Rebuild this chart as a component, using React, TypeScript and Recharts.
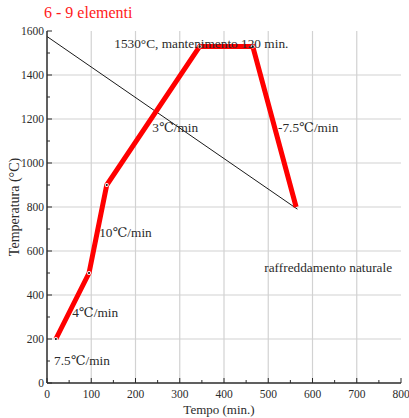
import React from 'react';
import { LineChart, Line, XAxis, YAxis, ReferenceLine, ReferenceDot } from 'recharts';

// heating profile (min, °C)
const heatTime = [20, 95, 135, 345, 465, 563];
const heatTemp = [200, 500, 900, 1530, 1530, 800];

// natural cooling line
const coolTime = [0, 566];
const coolTemp = [1575, 790];

const xMajor = [0, 100, 200, 300, 400, 500, 600, 700, 800];
const xTicks = [0, 50, 100, 150, 200, 250, 300, 350, 400, 450, 500, 550, 600, 650, 700, 750, 800];
const yMajor = [0, 200, 400, 600, 800, 1000, 1200, 1400, 1600];
const yTicks = [0, 100, 200, 300, 400, 500, 600, 700, 800, 900, 1000, 1100, 1200, 1300, 1400, 1500, 1600];

const noteText = [
  '1530°C, mantenimento 120 min.',
  '3℃/min',
  '-7.5℃/min',
  '10℃/min',
  'raffreddamento naturale',
  '4℃/min',
  '7.5℃/min',
];
const noteX = [152, 238, 522, 118, 491, 57, 16];
const noteY = [1545, 1164, 1164, 686, 527, 323, 105];

const heatData = heatTime.map((t, i) => ({ t, v: heatTemp[i] }));
const coolData = coolTime.map((t, i) => ({ t, v: coolTemp[i] }));
const notes = noteText.map((text, i) => ({ text, x: noteX[i], y: noteY[i] }));

const FONT = '"Liberation Serif", "DejaVu Serif", serif';
const INK = '#2b2b2b';

const BottomTick = (props: any) => {
  const { x, y, payload } = props;
  const major = payload.value % 100 === 0;
  return (
    <g>
      <line x1={x} x2={x} y1={y} y2={y - (major ? 5 : 3)} stroke={INK} />
      {major && (
        <text x={x} y={y + 15} textAnchor="middle" fontSize={11.5} fill={INK} fontFamily={FONT}>
          {payload.value}
        </text>
      )}
    </g>
  );
};

const TopTick = (props: any) => {
  const { x, y, payload } = props;
  const major = payload.value % 100 === 0;
  return <line x1={x} x2={x} y1={y} y2={y + (major ? 5 : 3)} stroke={INK} />;
};

const LeftTick = (props: any) => {
  const { x, y, payload } = props;
  const major = payload.value % 200 === 0;
  return (
    <g>
      <line x1={x} x2={x + (major ? 5 : 3)} y1={y} y2={y} stroke={INK} />
      {major && (
        <text x={x - 3} y={y + 4} textAnchor="end" fontSize={11.5} fill={INK} fontFamily={FONT}>
          {payload.value}
        </text>
      )}
    </g>
  );
};

const RightTick = (props: any) => {
  const { x, y, payload } = props;
  const major = payload.value % 200 === 0;
  return <line x1={x} x2={x - (major ? 5 : 3)} y1={y} y2={y} stroke={INK} />;
};

const VertexDot = (props: any) => {
  const { cx, cy, index } = props;
  if (index === heatData.length - 1) return <g key={index} />;
  return (
    <g key={index}>
      <circle cx={cx} cy={cy} r={2} fill="#fff" />
      <circle cx={cx} cy={cy} r={1.1} fill="#111" />
    </g>
  );
};

export default function App() {
  return (
    <div style={{ position: 'relative', width: 409, height: 418, background: '#fff', fontFamily: FONT }}>
      <style>{'body{margin:0}'}</style>
      <div style={{ position: 'absolute', left: 44, top: 3, color: '#ff1a1a', fontSize: 16, fontFamily: FONT, lineHeight: '20px' }}>
        6 - 9 elementi
      </div>
      <LineChart width={409} height={418} data={heatData} margin={{ top: 31, right: 8, bottom: 0, left: 0 }}>
        <XAxis
          dataKey="t"
          type="number"
          domain={[0, 800]}
          ticks={xTicks}
          interval={0}
          height={35}
          tickSize={0}
          tickMargin={0}
          tickLine={false}
          axisLine={{ stroke: INK, strokeWidth: 1.5 }}
          tick={<BottomTick />}
          label={{
            content: (p: any) => (
              <text
                x={p.viewBox.x + p.viewBox.width / 2 - 5}
                y={p.viewBox.y + 31}
                textAnchor="middle"
                fontSize={13}
                fill={INK}
                fontFamily={FONT}
              >
                Tempo (min.)
              </text>
            ),
          }}
        />
        <XAxis
          xAxisId="t"
          dataKey="t"
          type="number"
          orientation="top"
          domain={[0, 800]}
          ticks={xTicks}
          interval={0}
          height={0}
          tickSize={0}
          tickMargin={0}
          tickLine={false}
          axisLine={{ stroke: INK, strokeWidth: 1.5 }}
          tick={<TopTick />}
        />
        <YAxis
          type="number"
          domain={[0, 1600]}
          ticks={yTicks}
          interval={0}
          width={47}
          tickSize={0}
          tickMargin={0}
          tickLine={false}
          axisLine={{ stroke: INK, strokeWidth: 1.5 }}
          tick={<LeftTick />}
          label={{
            content: (p: any) => {
              const cx = p.viewBox.x + 14;
              const cy = p.viewBox.y + p.viewBox.height / 2;
              return (
                <text
                  x={cx}
                  y={cy}
                  transform={`rotate(-90, ${cx}, ${cy})`}
                  textAnchor="middle"
                  dominantBaseline="central"
                  fontSize={14}
                  fill={INK}
                  fontFamily={FONT}
                >
                  Temperatura (°C)
                </text>
              );
            },
          }}
        />
        <YAxis
          yAxisId="r"
          type="number"
          orientation="right"
          domain={[0, 1600]}
          ticks={yTicks}
          interval={0}
          width={0}
          tickSize={0}
          tickMargin={0}
          tickLine={false}
          axisLine={{ stroke: INK, strokeWidth: 1.5 }}
          tick={<RightTick />}
        />
        {xMajor.slice(1, -1).map((v) => (
          <ReferenceLine key={'x' + v} x={v} stroke="#d2d2d2" strokeWidth={1.2} />
        ))}
        {yMajor.slice(1, -1).map((v) => (
          <ReferenceLine key={'y' + v} y={v} stroke="#d2d2d2" strokeWidth={1.2} />
        ))}
        <Line
          data={coolData}
          dataKey="v"
          type="linear"
          stroke="#1a1a1a"
          strokeWidth={1}
          dot={false}
          isAnimationActive={false}
        />
        <Line
          dataKey="v"
          type="linear"
          stroke="#ff0000"
          strokeWidth={5}
          strokeLinejoin="miter"
          dot={<VertexDot />}
          activeDot={false}
          isAnimationActive={false}
        />
        {notes.map((n) => (
          <ReferenceDot
            key={n.text}
            x={n.x}
            y={n.y}
            r={0}
            fill="none"
            stroke="none"
            label={{
              value: n.text,
              position: 'right',
              offset: 0,
              fontSize: 13.3,
              fill: INK,
              fontFamily: FONT,
            }}
          />
        ))}
      </LineChart>
    </div>
  );
}
